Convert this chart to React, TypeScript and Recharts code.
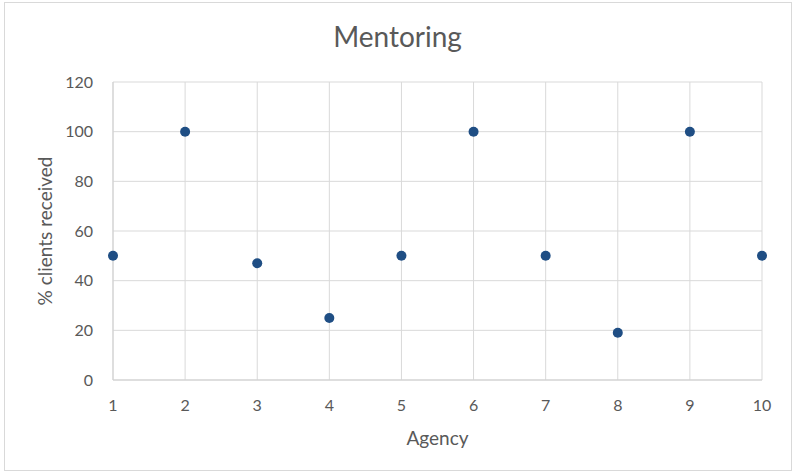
import { ScatterChart, Scatter, XAxis, YAxis, CartesianGrid, Label } from "recharts";

const agencies = [1, 2, 3, 4, 5, 6, 7, 8, 9, 10];
const received = [50, 100, 47, 25, 50, 100, 50, 19, 100, 50];
const xTicks = [1, 2, 3, 4, 5, 6, 7, 8, 9, 10];
const yTicks = [0, 20, 40, 60, 80, 100, 120];

const data = agencies.map((a, i) => ({ agency: a, pct: received[i] }));

const FONT = "Lato, 'Open Sans', sans-serif";
const TEXT = "#595959";

const Dot = (props: any) => <circle cx={props.cx} cy={props.cy} r={5} fill="#1f4e84" />;

export default function App() {
    return (
        <div style={{ position: "absolute", left: 0, top: 0, width: 795, height: 474, background: "#fff", fontFamily: FONT }}>
            {/* chart frame */}
            <div style={{ position: "absolute", left: 4, top: 2, width: 786, height: 467, border: "1px solid #d9d9d9" }} />
            <div
                style={{
                    position: "absolute",
                    left: 0,
                    width: 795,
                    top: 19,
                    textAlign: "center",
                    fontSize: 28,
                    color: TEXT,
                }}
            >
                Mentoring
            </div>
            <div style={{ position: "absolute", left: 0, top: 0 }}>
                <ScatterChart width={795} height={474} margin={{ top: 82, right: 33, bottom: 64, left: 53 }}>
                    <CartesianGrid stroke="#d9d9d9" verticalValues={xTicks} horizontalValues={yTicks} />
                    <XAxis
                        type="number"
                        dataKey="agency"
                        domain={[1, 10]}
                        ticks={xTicks}
                        stroke="#d0d0d0"
                        tickLine={false}
                        tickMargin={14}
                        tick={{ fill: TEXT, fontSize: 16, fontFamily: FONT }}
                    >
                        <Label value="Agency" position="bottom" offset={22} fill={TEXT} fontSize={19} fontFamily={FONT} />
                    </XAxis>
                    <YAxis
                        type="number"
                        dataKey="pct"
                        domain={[0, 120]}
                        ticks={yTicks}
                        width={60}
                        stroke="#d0d0d0"
                        tickLine={false}
                        tickMargin={14}
                        tick={{ fill: TEXT, fontSize: 16, fontFamily: FONT }}
                    >
                        <Label
                            value="% clients received"
                            angle={-90}
                            position="insideLeft"
                            offset={-8}
                            style={{ textAnchor: "middle" }}
                            fill={TEXT}
                            fontSize={19}
                            fontFamily={FONT}
                        />
                    </YAxis>
                    <Scatter data={data} shape={Dot} isAnimationActive={false} />
                </ScatterChart>
            </div>
        </div>
    );
}
